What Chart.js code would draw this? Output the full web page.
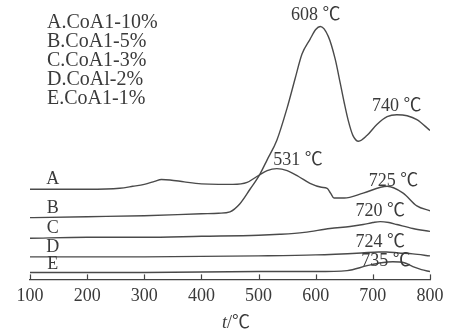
<!DOCTYPE html>
<html>
<head>
<meta charset="utf-8">
<script src="https://cdn.jsdelivr.net/npm/chart.js@4.4.1/dist/chart.umd.min.js"></script>
<style>
    html, body { margin: 0; padding: 0; background: #fff; }
    #wrap { width: 451px; height: 336px; }
</style>
</head>
<body>
<div id="wrap"><canvas id="tpdChart" width="451" height="336"></canvas></div>
<script>
// temperatures (°C) and signal (arbitrary units)
const tempsA = [100, 200, 257, 280, 300, 318, 330, 345, 370, 400, 430, 455, 480, 497, 515, 532, 550, 570, 590, 610, 620, 626, 632, 650, 683, 725, 753, 777, 800];
const valuesA = [92, 92, 93, 95, 97, 100, 102, 101.5, 99.5, 97.5, 97, 97, 99, 105, 111, 113, 111, 105, 98, 94, 93, 88, 83, 83, 88, 95, 88, 75, 70];

const tempsB = [100, 200, 300, 400, 430, 450, 467, 485, 502, 515, 532, 550, 564, 576, 590, 600, 608, 622, 634, 643, 650, 657, 665, 675, 690, 707, 725, 742, 760, 777, 800];
const valuesB = [63, 64, 65, 67, 67.5, 69, 77, 92, 107, 122, 142, 175, 205, 230, 245, 255, 258, 248, 225, 200, 180, 162, 147, 141, 147, 158, 166, 168, 167, 163, 152];

const tempsC = [100, 200, 300, 400, 500, 537, 580, 625, 660, 683, 700, 713, 728, 742, 770, 800];
const valuesC = [42, 43, 43, 44, 45, 46, 48, 52, 54, 56, 58, 59, 58, 56, 52, 49];

const tempsD = [100, 300, 500, 600, 680, 710, 724, 745, 770, 800];
const valuesD = [23, 23, 24, 25, 27, 28, 28, 27, 26, 24];

const tempsE = [100, 300, 500, 600, 655, 690, 715, 735, 755, 770, 785, 800];
const valuesE = [7, 7, 8, 8, 9, 14, 17, 18, 17, 13, 10, 8];

const seriesNames = ['A', 'B', 'C', 'D', 'E'];
const legendLines = ['A.CoA1-10%', 'B.CoA1-5%', 'C.CoA1-3%', 'D.CoAl-2%', 'E.CoA1-1%'];
const xTicks = [100, 200, 300, 400, 500, 600, 700, 800];

// peak labels, placed in data space
const peakLabels = [
    { text: '608 ℃', t: 600, v: 270 },
    { text: '740 ℃', t: 742, v: 177 },
    { text: '531 ℃', t: 569, v: 122 },
    { text: '725 ℃', t: 736, v: 100 },
    { text: '720 ℃', t: 713, v: 70 },
    { text: '724 ℃', t: 713, v: 38 },
    { text: '735 ℃', t: 723, v: 18 }
];
const letterPos = [[140, 102], [140, 73], [140, 52], [140, 33], [140, 15]];

const FONT = '"Liberation Serif", "Noto Sans CJK SC", serif';
const INK = '#3a3a3a';

function toPoints(ts, vs) {
    return ts.map((t, i) => ({ x: t, y: vs[i] }));
}

const curves = [
    toPoints(tempsA, valuesA),
    toPoints(tempsB, valuesB),
    toPoints(tempsC, valuesC),
    toPoints(tempsD, valuesD),
    toPoints(tempsE, valuesE)
];

// text, inner ticks and axis title
const annotatePlugin = {
    id: 'annotate',
    afterDraw(chart) {
        const ctx = chart.ctx;
        const xs = chart.scales.x;
        const ys = chart.scales.y;
        const bottom = chart.chartArea.bottom;

        ctx.save();
        ctx.strokeStyle = '#444';
        ctx.lineWidth = 1.2;
        xTicks.forEach(t => {
            const px = Math.round(xs.getPixelForValue(t)) + 0.5;
            ctx.beginPath();
            ctx.moveTo(px, bottom);
            ctx.lineTo(px, bottom - 5);
            ctx.stroke();
        });

        ctx.fillStyle = INK;
        ctx.textBaseline = 'middle';

        ctx.font = '20px ' + FONT;
        ctx.textAlign = 'left';
        legendLines.forEach((line, i) => {
            ctx.fillText(line, 47, 23 + i * 19);
        });

        ctx.font = '18px ' + FONT;
        ctx.textAlign = 'center';
        seriesNames.forEach((name, i) => {
            ctx.fillText(name, xs.getPixelForValue(letterPos[i][0]), ys.getPixelForValue(letterPos[i][1]));
        });
        peakLabels.forEach(p => {
            ctx.fillText(p.text, xs.getPixelForValue(p.t), ys.getPixelForValue(p.v));
        });

        // axis title: italic t
        ctx.textAlign = 'left';
        ctx.font = 'italic 18px ' + FONT;
        const tw = ctx.measureText('t').width;
        ctx.font = '18px ' + FONT;
        const rw = ctx.measureText('/℃').width;
        const startX = 236 - (tw + rw) / 2;
        ctx.font = 'italic 18px ' + FONT;
        ctx.fillText('t', startX, 323);
        ctx.font = '18px ' + FONT;
        ctx.fillText('/℃', startX + tw, 323);
        ctx.restore();
    }
};

const ctx = document.getElementById('tpdChart').getContext('2d');
const tpdChart = new Chart(ctx, {
    type: 'line',
    data: {
        datasets: curves.map((pts, i) => ({
            label: seriesNames[i],
            data: pts,
            borderColor: '#4a4a4a',
            borderWidth: 1.4,
            pointRadius: 0,
            fill: false,
            cubicInterpolationMode: 'monotone'
        }))
    },
    options: {
        responsive: false,
        animation: false,
        layout: {
            padding: { left: 30, right: 21, top: 5, bottom: 23 }
        },
        plugins: {
            legend: { display: false },
            tooltip: { enabled: false }
        },
        scales: {
            x: {
                type: 'linear',
                min: 100,
                max: 800,
                afterBuildTicks: axis => {
                    axis.ticks = xTicks.map(v => ({ value: v }));
                },
                grid: { display: false, drawTicks: false },
                border: { display: true, color: '#444', width: 1.2 },
                ticks: {
                    padding: 6,
                    color: INK,
                    maxRotation: 0,
                    font: { family: FONT, size: 18 }
                }
            },
            y: {
                display: false,
                min: 0,
                max: 280
            }
        }
    },
    plugins: [annotatePlugin]
});
</script>
</body>
</html>
